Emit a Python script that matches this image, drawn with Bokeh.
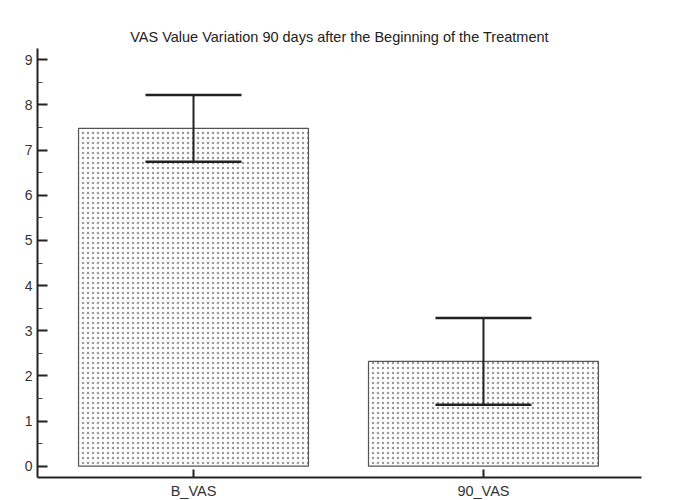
from bokeh.plotting import figure
from bokeh.models import ColumnDataSource, Whisker, TeeHead, FixedTicker, Range1d
from bokeh.embed import file_html
from bokeh.resources import INLINE

# Data
categories = ["B_VAS", "90_VAS"]
means = [7.48, 2.32]
errors = [0.74, 0.96]
y_ticks = [0, 1, 2, 3, 4, 5, 6, 7, 8, 9]
title_text = "VAS Value Variation 90 days after the Beginning of the Treatment"

xpos = list(range(len(categories)))
upper = [m + e for m, e in zip(means, errors)]
lower = [m - e for m, e in zip(means, errors)]
src = ColumnDataSource(dict(x=xpos, top=means, upper=upper, lower=lower))

FONT = "Liberation Sans"

p = figure(output_backend="svg", toolbar_location=None,
           frame_width=604, frame_height=429,
           min_border_left=37, min_border_top=48, min_border_right=36, min_border_bottom=22,
           x_range=Range1d(-0.538, 1.545), y_range=Range1d(-0.25, 9.25),
           title=title_text)

p.title.align = "center"
p.title.text_font = FONT
p.title.text_font_size = "14.5px"
p.title.text_font_style = "normal"
p.title.text_color = "#222222"
p.title.standoff = 7

p.outline_line_color = None
p.xgrid.visible = False
p.ygrid.visible = False
p.background_fill_color = "white"
p.border_fill_color = "white"

p.vbar(x="x", top="top", bottom=0, width=0.793, source=src,
       fill_color="white", line_color="#555555", line_width=1.2,
       hatch_pattern="dot", hatch_color="#999999", hatch_scale=5, hatch_weight=1)

w = Whisker(base="x", upper="upper", lower="lower", source=src, level="overlay",
            line_color="#222222", line_width=2,
            upper_head=TeeHead(size=96, line_color="#222222", line_width=2.5),
            lower_head=TeeHead(size=96, line_color="#222222", line_width=2.5))
p.add_layout(w)

# axes
ya = p.yaxis[0]
ya.ticker = FixedTicker(ticks=y_ticks, minor_ticks=[v + 0.5 for v in y_ticks])
ya.axis_line_width = 2
ya.axis_line_color = "#222222"
ya.major_tick_in = 10
ya.major_tick_out = 0
ya.minor_tick_in = 5
ya.minor_tick_out = 0
ya.major_tick_line_width = 2
ya.minor_tick_line_width = 1
ya.major_tick_line_color = "#222222"
ya.minor_tick_line_color = "#444444"
ya.major_label_text_font = FONT
ya.major_label_text_font_size = "14px"
ya.major_label_text_color = "#333333"
ya.major_label_standoff = 5

xa = p.xaxis[0]
xa.ticker = FixedTicker(ticks=xpos, minor_ticks=[])
xa.major_label_overrides = {i: c for i, c in zip(xpos, categories)}
xa.axis_line_width = 2
xa.axis_line_color = "#222222"
xa.major_tick_in = 8
xa.major_tick_out = 0
xa.major_tick_line_width = 2
xa.major_tick_line_color = "#222222"
xa.minor_tick_line_color = None
xa.major_label_text_font = FONT
xa.major_label_text_font_size = "14.5px"
xa.major_label_text_color = "#333333"
xa.major_label_standoff = 5

open("out.html", "w").write(file_html(p, INLINE))
